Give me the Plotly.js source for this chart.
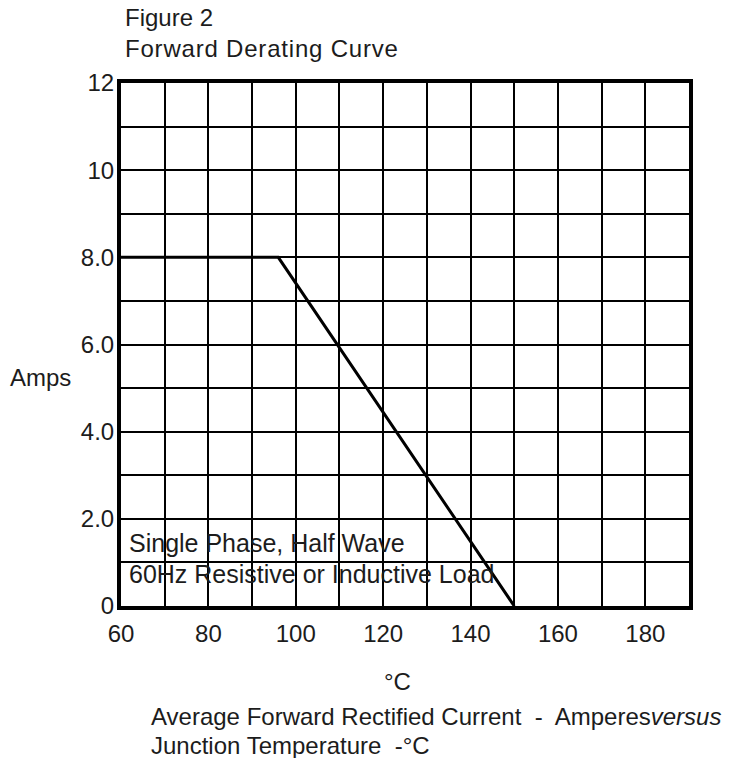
<!DOCTYPE html>
<html>
<head>
<meta charset="utf-8">
<script src="https://cdn.plot.ly/plotly-3.0.1.min.js"></script>
<style>html,body{margin:0;padding:0;background:#fff;}#chart{width:729px;height:758px;}</style>
</head>
<body>
<div id="chart"></div>
<script>
// Data
const temperatureC = [60, 96, 150];
const currentAmps = [8, 8, 0];
const xTickVals = [60, 70, 80, 90, 100, 110, 120, 130, 140, 150, 160, 170, 180, 190];
const xTickText = ["60", "", "80", "", "100", "", "120", "", "140", "", "160", "", "180", ""];
const yTickVals = [0, 1, 2, 3, 4, 5, 6, 7, 8, 9, 10, 11, 12];
const yTickText = ["0", "", "2.0", "", "4.0", "", "6.0", "", "8.0", "", "10", "", "12"];

const FONT = "Liberation Sans, Arial, sans-serif";
const TXT = "#1c1c1c";
const FS = 24;

const L = 121, R = 689, T = 83, B = 606;
function px(x){ return (x - L) / (R - L); }
function py(y){ return (B - y) / (B - T); }

const trace = {
  x: temperatureC, y: currentAmps, type: "scatter", mode: "lines",
  line: {color: "#000", width: 3}, hoverinfo: "skip", showlegend: false
};

const ann = (text, x, y, xanchor, size) => ({
  text: text, xref: "paper", yref: "paper", x: px(x), y: py(y),
  xanchor: xanchor || "left", yanchor: "middle", showarrow: false,
  font: {family: FONT, size: size || FS, color: TXT}
});

const layout = {
  width: 729, height: 758,
  margin: {l: L, r: 729 - R, t: T, b: 758 - B},
  paper_bgcolor: "#fff", plot_bgcolor: "#fff",
  font: {family: FONT, size: FS, color: TXT},
  xaxis: {
    range: [60, 190], tickvals: xTickVals, ticktext: xTickText,
    showgrid: true, gridcolor: "#000", gridwidth: 2,
    zeroline: false, showline: true, linecolor: "#000", linewidth: 4, mirror: true,
    ticks: "", ticklabelstandoff: 3, fixedrange: true,
    tickfont: {family: FONT, size: FS, color: TXT}
  },
  yaxis: {
    range: [0, 12], tickvals: yTickVals, ticktext: yTickText,
    showgrid: true, gridcolor: "#000", gridwidth: 2,
    zeroline: false, showline: true, linecolor: "#000", linewidth: 4, mirror: true,
    ticks: "", ticklabelstandoff: -2, fixedrange: true,
    tickfont: {family: FONT, size: FS, color: TXT}
  },
  annotations: [
    ann("Figure 2", 123, 17),
    ann('<span style="letter-spacing:0.8px">Forward Derating Curve</span>', 123, 49),
    ann("Amps", 8, 377),
    ann("Single Phase, Half Wave", 127, 543, "left", 25),
    ann("60Hz Resistive or Inductive Load", 127, 574, "left", 25),
    ann("°C", 397, 681, "center"),
    ann("Average Forward Rectified Current  -  Amperes<i>versus</i>", 149, 716),
    ann("Junction Temperature  -°C", 149, 745)
  ]
};

Plotly.newPlot("chart", [trace], layout, {displayModeBar: false, staticPlot: true});
</script>
</body>
</html>
